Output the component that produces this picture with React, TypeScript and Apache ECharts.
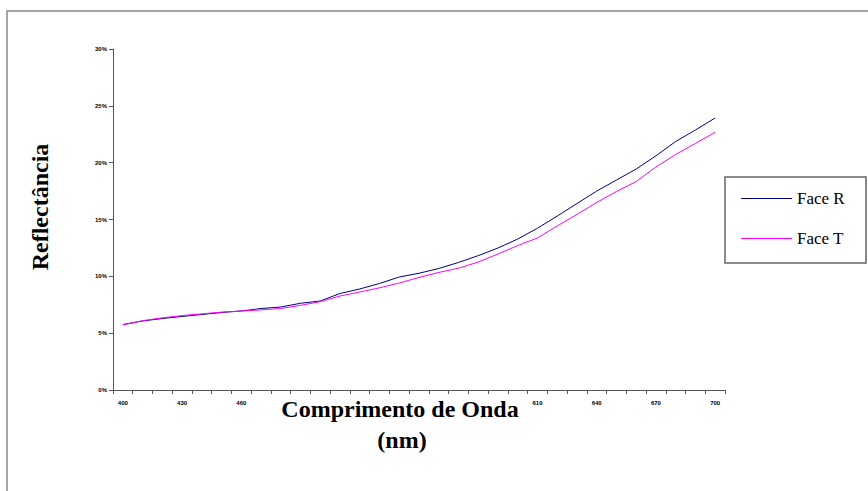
import React, { useEffect, useRef } from "react";
import * as echarts from "echarts";

const wavelengths: string[] = [
  "400", "410", "420", "430", "440", "450", "460", "470", "480", "490",
  "500", "510", "520", "530", "540", "550", "560", "570", "580", "590",
  "600", "610", "620", "630", "640", "650", "660", "670", "680", "690", "700",
];

// label indices visible in the reference (the others are hidden under the axis title)
const shownLabelIdx: number[] = [0, 3, 6, 21, 24, 27, 30];

const faceR: number[] = [
  5.76, 6.07, 6.29, 6.47, 6.64, 6.82, 6.95, 7.17, 7.3, 7.63,
  7.83, 8.49, 8.89, 9.37, 9.94, 10.27, 10.69, 11.22, 11.82, 12.49,
  13.28, 14.23, 15.3, 16.4, 17.5, 18.47, 19.44, 20.6, 21.86, 22.87, 23.93,
];

const faceT: number[] = [
  5.72, 6.1, 6.35, 6.55, 6.7, 6.85, 6.95, 7.05, 7.17, 7.45,
  7.77, 8.27, 8.62, 8.99, 9.41, 9.9, 10.34, 10.71, 11.26, 11.96,
  12.71, 13.37, 14.43, 15.44, 16.5, 17.46, 18.34, 19.62, 20.72, 21.69, 22.67,
];

const seriesNames: string[] = ["Face R", "Face T"];
const yTitle = "Reflectância";
const xTitle = "Comprimento de Onda";
const xUnit = "(nm)";

export default function App() {
  const ref = useRef<HTMLDivElement>(null);
  useEffect(() => {
    if (!ref.current) return;
    const chart = echarts.init(ref.current, undefined, { renderer: "svg" });
    const serif = "'Liberation Serif', 'DejaVu Serif', serif";
    chart.setOption({
      animation: false,
      backgroundColor: "#ffffff",
      grid: { left: 113, top: 49, right: 143, bottom: 101, containLabel: false },
      xAxis: {
        type: "category",
        data: wavelengths,
        boundaryGap: true,
        axisLine: { lineStyle: { color: "#555555", width: 1 } },
        axisTick: { show: true, length: 4, interval: 0, lineStyle: { color: "#555555" } },
        axisLabel: {
          interval: (idx: number) => shownLabelIdx.indexOf(idx) >= 0,
          fontSize: 6,
          fontWeight: "bold",
          color: "#000000",
          fontFamily: "'Liberation Sans', Arial, sans-serif",
          margin: 10,
        },
        splitLine: { show: false },
      },
      yAxis: {
        type: "value",
        min: 0,
        max: 30,
        interval: 5,
        axisLine: { show: true, lineStyle: { color: "#555555", width: 1 } },
        axisTick: { show: true, length: 4, lineStyle: { color: "#555555" } },
        axisLabel: {
          formatter: "{value}%",
          fontSize: 6,
          fontWeight: "bold",
          color: "#000000",
          fontFamily: "'Liberation Sans', Arial, sans-serif",
          margin: 6,
        },
        splitLine: { show: false },
      },
      legend: {
        orient: "vertical",
        left: 741,
        top: 190,
        padding: 0,
        itemWidth: 51,
        itemHeight: 10,
        itemGap: 23,
        icon: "path://M0,4.5L51,4.5L51,5.5L0,5.5Z",
        textStyle: { fontFamily: serif, fontSize: 17, color: "#000000" },
        data: seriesNames,
      },
      graphic: [
        {
          type: "rect",
          shape: { x: 7, y: 11, width: 880, height: 500 },
          style: { fill: "none", stroke: "#888888", lineWidth: 1.5 },
          silent: true,
        },
        {
          type: "rect",
          shape: { x: 725, y: 177, width: 141, height: 86 },
          style: { fill: "none", stroke: "#666666", lineWidth: 1.5 },
          silent: true,
        },
        {
          type: "text",
          x: 40,
          y: 207,
          rotation: Math.PI / 2,
          style: {
            text: yTitle,
            font: "bold 24px " + serif,
            fill: "#000000",
            align: "center",
            verticalAlign: "middle",
          },
        },
        {
          type: "text",
          x: 400,
          y: 409,
          style: {
            text: xTitle,
            font: "bold 24px " + serif,
            fill: "#000000",
            align: "center",
            verticalAlign: "middle",
          },
        },
        {
          type: "text",
          x: 402,
          y: 440,
          style: {
            text: xUnit,
            font: "bold 24px " + serif,
            fill: "#000000",
            align: "center",
            verticalAlign: "middle",
          },
        },
      ],
      series: [
        {
          name: seriesNames[0],
          type: "line",
          data: faceR,
          symbol: "none",
          lineStyle: { color: "#000080", width: 1 },
          itemStyle: { color: "#000080" },
        },
        {
          name: seriesNames[1],
          type: "line",
          data: faceT,
          symbol: "none",
          lineStyle: { color: "#FF00FF", width: 1 },
          itemStyle: { color: "#FF00FF" },
        },
      ],
    });
    return () => chart.dispose();
  }, []);
  return (
    <div
      ref={ref}
      style={{ position: "fixed", left: 0, top: 0, width: 868, height: 491, background: "#fff" }}
    />
  );
}
